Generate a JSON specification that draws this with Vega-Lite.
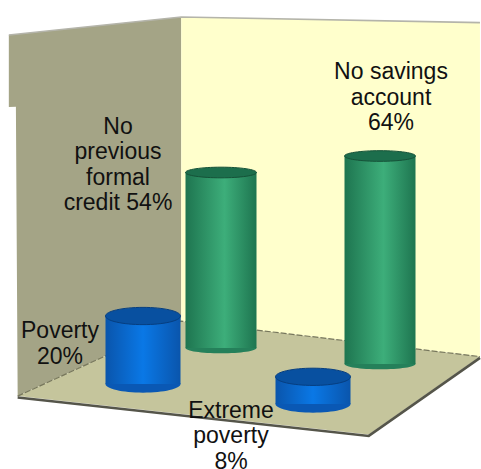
{
 "$schema":"https://vega.github.io/schema/vega-lite/v6.json",
 "width":481,"height":469,"padding":0,"autosize":{"type":"none"},
 "background":"white","view":{"stroke":null},
 "datasets":{
  "bars":[
   {"label":"No\nprevious\nformal\ncredit 54%","value":54,"group":"access","c":0,"r":1},
   {"label":"No savings\naccount\n64%","value":64,"group":"access","c":1,"r":1},
   {"label":"Poverty\n20%","value":20,"group":"poverty","c":0,"r":0},
   {"label":"Extreme\npoverty\n8%","value":8,"group":"poverty","c":1,"r":0}
  ],
  "scene":[
   {"shape":"leftWall","i":0,"c":-0.44,"r":-0.61,"h":0},
   {"shape":"leftWall","i":1,"c":-0.45,"r":-0.61,"h":82.8},
   {"shape":"leftWall","i":2,"c":-0.49,"r":-0.61,"h":82.5},
   {"shape":"leftWall","i":3,"c":-0.49,"r":-0.61,"h":103.1},
   {"shape":"leftWall","i":4,"c":-0.535,"r":1.54,"h":96},
   {"shape":"leftWall","i":5,"c":-0.535,"r":1.54,"h":0},
   {"shape":"backWall","i":0,"c":-0.535,"r":1.54,"h":0},
   {"shape":"backWall","i":1,"c":-0.535,"r":1.54,"h":96},
   {"shape":"backWall","i":2,"c":1.488,"r":1.363,"h":104.5},
   {"shape":"backWall","i":3,"c":1.488,"r":1.363,"h":0},
   {"shape":"floor","i":0,"c":-0.44,"r":-0.61,"h":0},
   {"shape":"floor","i":1,"c":-0.535,"r":1.54,"h":0},
   {"shape":"floor","i":2,"c":1.488,"r":1.363,"h":0},
   {"shape":"floor","i":3,"c":1.504,"r":-0.487,"h":0},
   {"shape":"front","i":0,"c":-0.44,"r":-0.61,"h":-0.4},
   {"shape":"front","i":1,"c":1.504,"r":-0.487,"h":-0.4},
   {"shape":"front","i":2,"c":1.488,"r":1.363,"h":-0.4},
   {"shape":"seam","i":0,"c":-0.44,"r":-0.61,"h":0},
   {"shape":"seam","i":1,"c":-0.535,"r":1.54,"h":0},
   {"shape":"seam","i":2,"c":1.488,"r":1.363,"h":0},
   {"shape":"top","i":0,"c":-0.49,"r":-0.61,"h":103.1},
   {"shape":"top","i":1,"c":-0.535,"r":1.54,"h":96},
   {"shape":"top","i":2,"c":1.488,"r":1.363,"h":104.5}
  ]
 },
 "encoding":{
  "x":{"field":"px","type":"quantitative","scale":{"domain":[0,481],"nice":false,"zero":false},"axis":null},
  "y":{"field":"py","type":"quantitative","scale":{"domain":[469,0],"nice":false,"zero":false},"axis":null}
 },
 "layer":[
  {"data":{"name":"scene"},
   "transform":[
    {"calculate":"143+170*datum.c+78*datum.r-11*datum.c*datum.r","as":"px"},
    {"calculate":"384+20*datum.c-36*datum.r-4*datum.c*datum.r-(3.4-0.15*datum.r)*datum.h","as":"py"}
   ],
   "encoding":{"order":{"field":"i","type":"quantitative"}},
   "layer":[
    {"transform":[{"filter":"datum.shape==='leftWall'"}],"mark":{"type":"line","fill":"#A4A486","stroke":null,"interpolate":"linear-closed"}},
    {"transform":[{"filter":"datum.shape==='backWall'"}],"mark":{"type":"line","fill":"#FFFFCC","stroke":null,"interpolate":"linear-closed"}},
    {"transform":[{"filter":"datum.shape==='floor'"}],"mark":{"type":"line","fill":"#C5C59C","stroke":null,"interpolate":"linear-closed"}},
    {"transform":[{"filter":"datum.shape==='seam'"}],"mark":{"type":"line","stroke":"#77775C","strokeWidth":1.2,"strokeDash":[6,2]}},
    {"transform":[{"filter":"datum.shape==='top'"}],"mark":{"type":"line","stroke":"#B4B4AA","strokeWidth":1.6}},
    {"transform":[{"filter":"datum.shape==='front'"}],"mark":{"type":"line","stroke":"#55554A","strokeWidth":2.6}}
   ]
  },
  {"data":{"name":"bars"},
   "transform":[
    {"calculate":"143+170*datum.c+78*datum.r-11*datum.c*datum.r","as":"px"},
    {"calculate":"384+20*datum.c-36*datum.r-4*datum.c*datum.r","as":"base"},
    {"calculate":"datum.base-(3.4-0.15*datum.r)*datum.value","as":"py"},
    {"calculate":"37.5-2*datum.r","as":"hw"},
    {"calculate":"datum.px-datum.hw","as":"xl"},
    {"calculate":"datum.px+datum.hw","as":"xr"},
    {"calculate":"4*datum.hw*datum.hw","as":"sz"}
   ],
   "layer":[
    {"transform":[{"filter":"datum.group==='access'"}],
     "layer":[
      {"mark":{"type":"point","filled":true,"opacity":1,"fill":"#25805A"},
       "encoding":{"y":{"field":"base","type":"quantitative"},"size":{"field":"sz","type":"quantitative","scale":null},
        "shape":{"value":"M-1,0A1,0.15 0 1,0 1,0A1,0.15 0 1,0 -1,0Z"}}},
      {"mark":{"type":"rect","fill":{"gradient":"linear","x1":0,"x2":1,"y1":0,"y2":0,"stops":[{"offset":0,"color":"#1E7550"},{"offset":0.55,"color":"#3DAE7A"},{"offset":1,"color":"#1E7550"}]}},
       "encoding":{"x":{"field":"xl","type":"quantitative"},"x2":{"field":"xr"},"y2":{"field":"base"}}},
      {"mark":{"type":"point","filled":true,"opacity":1,"fill":"#1C6E4C","stroke":"#155238","strokeWidth":1},
       "encoding":{"size":{"field":"sz","type":"quantitative","scale":null},
        "shape":{"value":"M-1,0A1,0.15 0 1,0 1,0A1,0.15 0 1,0 -1,0Z"}}}
     ]},
    {"transform":[{"filter":"datum.group==='poverty'"}],
     "layer":[
      {"mark":{"type":"point","filled":true,"opacity":1,"fill":"#0A58B4"},
       "encoding":{"y":{"field":"base","type":"quantitative"},"size":{"field":"sz","type":"quantitative","scale":null},
        "shape":{"value":"M-1,0A1,0.23 0 1,0 1,0A1,0.23 0 1,0 -1,0Z"}}},
      {"mark":{"type":"rect","fill":{"gradient":"linear","x1":0,"x2":1,"y1":0,"y2":0,"stops":[{"offset":0,"color":"#0A55AC"},{"offset":0.5,"color":"#0A78E6"},{"offset":1,"color":"#0A55AC"}]}},
       "encoding":{"x":{"field":"xl","type":"quantitative"},"x2":{"field":"xr"},"y2":{"field":"base"}}},
      {"mark":{"type":"point","filled":true,"opacity":1,"fill":"#0850A0","stroke":"#063E80","strokeWidth":1},
       "encoding":{"size":{"field":"sz","type":"quantitative","scale":null},
        "shape":{"value":"M-1,0A1,0.23 0 1,0 1,0A1,0.23 0 1,0 -1,0Z"}}}
     ]},
    {"transform":[{"filter":"datum.value===20"}],"mark":{"type":"text","font":"Liberation Sans","fontSize":23,"lineBreak":"\n","lineHeight":25.5,"baseline":"top","align":"center","color":"#111","dx":-83,"dy":4},"encoding":{"text":{"field":"label"}}},
    {"transform":[{"filter":"datum.value===8"}],"mark":{"type":"text","font":"Liberation Sans","fontSize":23,"lineBreak":"\n","lineHeight":25.5,"baseline":"top","align":"center","color":"#111","dx":-82,"dy":23},"encoding":{"text":{"field":"label"}}},
    {"transform":[{"filter":"datum.value===54"}],"mark":{"type":"text","font":"Liberation Sans","fontSize":23,"lineBreak":"\n","lineHeight":25.5,"baseline":"top","align":"center","color":"#111","dx":-103,"dy":-57},"encoding":{"text":{"field":"label"}}},
    {"transform":[{"filter":"datum.value===64"}],"mark":{"type":"text","font":"Liberation Sans","fontSize":23,"lineBreak":"\n","lineHeight":25.5,"baseline":"top","align":"center","color":"#111","dx":11,"dy":-95},"encoding":{"text":{"field":"label"}}}
   ]
  }
 ]
}
